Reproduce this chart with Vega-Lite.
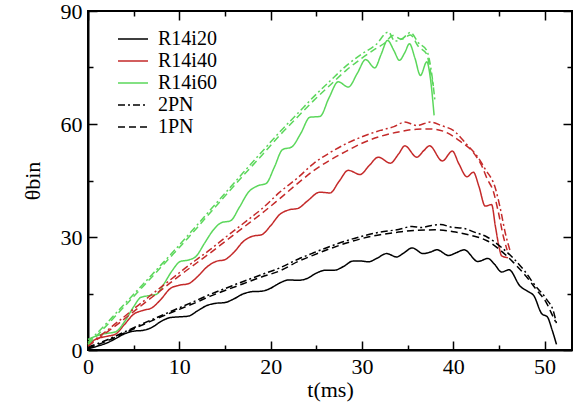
{
"$schema": "https://vega.github.io/schema/vega-lite/v6.json",
"width": 484, "height": 339,
"autosize": "none",
"padding": {"left": 88, "top": 11, "right": 7, "bottom": 57},
"config": {
 "font": "'Liberation Serif', 'Times New Roman', Times, serif",
 "view": {"stroke": "black", "strokeWidth": 2},
 "axis": {"grid": false, "domainColor": "black", "domainWidth": 2, "tickColor": "black", "tickWidth": 1.5,
  "labelFont": "'Liberation Serif', 'Times New Roman', Times, serif", "labelFontSize": 22, "labelColor": "black",
  "titleFont": "'Liberation Serif', 'Times New Roman', Times, serif", "titleFontSize": 22, "titleFontWeight": "normal", "titleColor": "black"},
 "legend": {"labelFont": "'Liberation Serif', 'Times New Roman', Times, serif", "labelFontSize": 20, "labelColor": "black", "padding": 0}
},
"data": {"values": [
{"s":"R14i20","t":0,"v":0.3},{"s":"R14i20","t":1,"v":1.0},{"s":"R14i20","t":2,"v":1.8},{"s":"R14i20","t":3,"v":3.0},{"s":"R14i20","t":4,"v":4.3},{"s":"R14i20","t":5,"v":5.0},{"s":"R14i20","t":6,"v":5.2},{"s":"R14i20","t":7,"v":6.0},{"s":"R14i20","t":8,"v":7.6},{"s":"R14i20","t":9,"v":8.6},{"s":"R14i20","t":10,"v":8.8},{"s":"R14i20","t":11,"v":9.0},{"s":"R14i20","t":12,"v":10.4},{"s":"R14i20","t":13,"v":11.8},{"s":"R14i20","t":14,"v":12.4},{"s":"R14i20","t":15,"v":12.6},{"s":"R14i20","t":16,"v":13.6},{"s":"R14i20","t":17,"v":14.9},{"s":"R14i20","t":18,"v":15.5},{"s":"R14i20","t":19,"v":15.6},{"s":"R14i20","t":20,"v":16.4},{"s":"R14i20","t":21,"v":17.8},{"s":"R14i20","t":22,"v":18.6},{"s":"R14i20","t":23,"v":18.5},{"s":"R14i20","t":24,"v":19.0},{"s":"R14i20","t":25,"v":20.4},{"s":"R14i20","t":26,"v":21.2},{"s":"R14i20","t":27,"v":21.2},{"s":"R14i20","t":28,"v":22.2},{"s":"R14i20","t":29,"v":23.6},{"s":"R14i20","t":30,"v":23.6},{"s":"R14i20","t":30.7,"v":23.4},{"s":"R14i20","t":31.6,"v":24.3},{"s":"R14i20","t":32.7,"v":25.6},{"s":"R14i20","t":33.8,"v":24.7},{"s":"R14i20","t":34.6,"v":25.8},{"s":"R14i20","t":35.5,"v":27.1},{"s":"R14i20","t":36.7,"v":25.6},{"s":"R14i20","t":37.5,"v":26.0},{"s":"R14i20","t":38.2,"v":26.6},{"s":"R14i20","t":39.5,"v":25.1},{"s":"R14i20","t":40.3,"v":25.8},{"s":"R14i20","t":41.2,"v":26.6},{"s":"R14i20","t":42.7,"v":23.5},{"s":"R14i20","t":43.8,"v":24.3},{"s":"R14i20","t":44.5,"v":22.8},{"s":"R14i20","t":45.3,"v":20.7},{"s":"R14i20","t":46.1,"v":21.3},{"s":"R14i20","t":47.3,"v":17.0},{"s":"R14i20","t":48.2,"v":15.5},{"s":"R14i20","t":48.8,"v":14.5},{"s":"R14i20","t":49.7,"v":9.6},{"s":"R14i20","t":50.3,"v":8.8},{"s":"R14i20","t":50.8,"v":5.5},{"s":"R14i20","t":51.3,"v":1.5},
{"s":"R14i40","t":0,"v":1.7},{"s":"R14i40","t":1,"v":3.0},{"s":"R14i40","t":2,"v":3.6},{"s":"R14i40","t":3,"v":4.2},{"s":"R14i40","t":4,"v":6.8},{"s":"R14i40","t":5,"v":9.5},{"s":"R14i40","t":6,"v":10.5},{"s":"R14i40","t":7,"v":11.2},{"s":"R14i40","t":8,"v":13.5},{"s":"R14i40","t":9,"v":16.3},{"s":"R14i40","t":10,"v":17.2},{"s":"R14i40","t":11,"v":17.6},{"s":"R14i40","t":12,"v":19.5},{"s":"R14i40","t":13,"v":22.0},{"s":"R14i40","t":14,"v":23.5},{"s":"R14i40","t":15,"v":24.0},{"s":"R14i40","t":16,"v":26.0},{"s":"R14i40","t":17,"v":28.8},{"s":"R14i40","t":18,"v":30.2},{"s":"R14i40","t":19,"v":30.6},{"s":"R14i40","t":20,"v":33.0},{"s":"R14i40","t":21,"v":36.0},{"s":"R14i40","t":22,"v":37.2},{"s":"R14i40","t":23,"v":37.6},{"s":"R14i40","t":24,"v":39.5},{"s":"R14i40","t":25.4,"v":41.9},{"s":"R14i40","t":26.5,"v":41.7},{"s":"R14i40","t":27.5,"v":44.8},{"s":"R14i40","t":28.5,"v":47.7},{"s":"R14i40","t":29.8,"v":46.6},{"s":"R14i40","t":30.8,"v":49.0},{"s":"R14i40","t":31.8,"v":51.2},{"s":"R14i40","t":33.1,"v":49.6},{"s":"R14i40","t":34.0,"v":52.0},{"s":"R14i40","t":34.7,"v":54.2},{"s":"R14i40","t":36.0,"v":51.2},{"s":"R14i40","t":36.8,"v":53.0},{"s":"R14i40","t":37.4,"v":54.2},{"s":"R14i40","t":38.8,"v":50.2},{"s":"R14i40","t":39.9,"v":52.8},{"s":"R14i40","t":40.6,"v":49.5},{"s":"R14i40","t":41.5,"v":46.0},{"s":"R14i40","t":42.2,"v":47.2},{"s":"R14i40","t":42.8,"v":43.5},{"s":"R14i40","t":43.5,"v":38.2},{"s":"R14i40","t":44.2,"v":38.6},{"s":"R14i40","t":44.6,"v":33.0},{"s":"R14i40","t":45.0,"v":27.5},{"s":"R14i40","t":45.3,"v":25.0},{"s":"R14i40","t":46.0,"v":24.5},
{"s":"R14i60","t":0,"v":2.8},{"s":"R14i60","t":1,"v":3.8},{"s":"R14i60","t":2,"v":4.4},{"s":"R14i60","t":3,"v":4.8},{"s":"R14i60","t":4,"v":7.5},{"s":"R14i60","t":5,"v":11.5},{"s":"R14i60","t":5.8,"v":14.0},{"s":"R14i60","t":6.6,"v":14.4},{"s":"R14i60","t":7.5,"v":14.8},{"s":"R14i60","t":8.3,"v":17.5},{"s":"R14i60","t":9.2,"v":21.0},{"s":"R14i60","t":10.1,"v":23.5},{"s":"R14i60","t":11.0,"v":23.9},{"s":"R14i60","t":11.8,"v":24.8},{"s":"R14i60","t":12.8,"v":28.5},{"s":"R14i60","t":13.7,"v":31.8},{"s":"R14i60","t":14.6,"v":33.8},{"s":"R14i60","t":15.6,"v":34.3},{"s":"R14i60","t":16.6,"v":38.0},{"s":"R14i60","t":17.6,"v":42.0},{"s":"R14i60","t":18.6,"v":43.6},{"s":"R14i60","t":19.5,"v":44.2},{"s":"R14i60","t":20.4,"v":48.5},{"s":"R14i60","t":21.3,"v":53.2},{"s":"R14i60","t":22.3,"v":53.9},{"s":"R14i60","t":23.3,"v":57.5},{"s":"R14i60","t":24.3,"v":61.8},{"s":"R14i60","t":25.4,"v":62.0},{"s":"R14i60","t":26.4,"v":67.0},{"s":"R14i60","t":27.4,"v":71.2},{"s":"R14i60","t":28.5,"v":69.8},{"s":"R14i60","t":29.5,"v":73.5},{"s":"R14i60","t":30.4,"v":77.1},{"s":"R14i60","t":31.4,"v":74.9},{"s":"R14i60","t":32.1,"v":78.5},{"s":"R14i60","t":32.8,"v":82.2},{"s":"R14i60","t":33.5,"v":79.5},{"s":"R14i60","t":34.1,"v":76.9},{"s":"R14i60","t":34.7,"v":79.0},{"s":"R14i60","t":35.2,"v":81.3},{"s":"R14i60","t":35.8,"v":77.5},{"s":"R14i60","t":36.4,"v":72.9},{"s":"R14i60","t":37.1,"v":76.5},{"s":"R14i60","t":37.5,"v":72.0},{"s":"R14i60","t":37.9,"v":62.3},
{"s":"R14i20 2PN","t":0,"v":0.8},{"s":"R14i20 2PN","t":2,"v":2.6},{"s":"R14i20 2PN","t":4,"v":4.8},{"s":"R14i20 2PN","t":6,"v":7.0},{"s":"R14i20 2PN","t":8,"v":9.1},{"s":"R14i20 2PN","t":10,"v":11.2},{"s":"R14i20 2PN","t":12,"v":13.3},{"s":"R14i20 2PN","t":13.4,"v":14.8},{"s":"R14i20 2PN","t":15,"v":16.3},{"s":"R14i20 2PN","t":17,"v":18.2},{"s":"R14i20 2PN","t":19,"v":20.0},{"s":"R14i20 2PN","t":21,"v":21.8},{"s":"R14i20 2PN","t":23,"v":24.1},{"s":"R14i20 2PN","t":24.7,"v":25.8},{"s":"R14i20 2PN","t":26.5,"v":27.5},{"s":"R14i20 2PN","t":28.3,"v":29.0},{"s":"R14i20 2PN","t":30,"v":30.2},{"s":"R14i20 2PN","t":32,"v":31.3},{"s":"R14i20 2PN","t":34,"v":32.0},{"s":"R14i20 2PN","t":35.5,"v":32.8},{"s":"R14i20 2PN","t":36.5,"v":32.5},{"s":"R14i20 2PN","t":37.5,"v":33.0},{"s":"R14i20 2PN","t":38.6,"v":33.3},{"s":"R14i20 2PN","t":39.8,"v":32.6},{"s":"R14i20 2PN","t":41.1,"v":32.3},{"s":"R14i20 2PN","t":42.3,"v":31.3},{"s":"R14i20 2PN","t":43.7,"v":30.0},{"s":"R14i20 2PN","t":45.3,"v":27.2},{"s":"R14i20 2PN","t":46.6,"v":24.3},{"s":"R14i20 2PN","t":47.8,"v":21.0},{"s":"R14i20 2PN","t":49,"v":17.0},{"s":"R14i20 2PN","t":50.2,"v":13.5},{"s":"R14i20 2PN","t":51.0,"v":10.0},{"s":"R14i20 2PN","t":51.3,"v":7.0},
{"s":"R14i20 1PN","t":0,"v":0.5},{"s":"R14i20 1PN","t":2,"v":2.3},{"s":"R14i20 1PN","t":4,"v":4.5},{"s":"R14i20 1PN","t":6,"v":6.7},{"s":"R14i20 1PN","t":8,"v":8.8},{"s":"R14i20 1PN","t":10,"v":10.8},{"s":"R14i20 1PN","t":12,"v":12.8},{"s":"R14i20 1PN","t":13.4,"v":14.3},{"s":"R14i20 1PN","t":15,"v":15.8},{"s":"R14i20 1PN","t":17,"v":17.6},{"s":"R14i20 1PN","t":19,"v":19.4},{"s":"R14i20 1PN","t":21,"v":21.0},{"s":"R14i20 1PN","t":23,"v":23.5},{"s":"R14i20 1PN","t":24.7,"v":25.2},{"s":"R14i20 1PN","t":26.5,"v":26.9},{"s":"R14i20 1PN","t":28.3,"v":28.4},{"s":"R14i20 1PN","t":30,"v":29.6},{"s":"R14i20 1PN","t":32,"v":30.6},{"s":"R14i20 1PN","t":34,"v":31.3},{"s":"R14i20 1PN","t":36,"v":31.8},{"s":"R14i20 1PN","t":38,"v":31.9},{"s":"R14i20 1PN","t":40,"v":31.4},{"s":"R14i20 1PN","t":42,"v":30.4},{"s":"R14i20 1PN","t":43.7,"v":29.0},{"s":"R14i20 1PN","t":45.3,"v":26.2},{"s":"R14i20 1PN","t":46.6,"v":23.2},{"s":"R14i20 1PN","t":48,"v":19.5},{"s":"R14i20 1PN","t":49.1,"v":16.0},{"s":"R14i20 1PN","t":50.2,"v":12.5},{"s":"R14i20 1PN","t":50.9,"v":9.0},{"s":"R14i20 1PN","t":51.2,"v":7.5},
{"s":"R14i40 2PN","t":0,"v":1.4},{"s":"R14i40 2PN","t":1,"v":3.2},{"s":"R14i40 2PN","t":2,"v":5.0},{"s":"R14i40 2PN","t":3,"v":7.0},{"s":"R14i40 2PN","t":4,"v":8.9},{"s":"R14i40 2PN","t":5,"v":10.9},{"s":"R14i40 2PN","t":6,"v":12.8},{"s":"R14i40 2PN","t":7,"v":14.8},{"s":"R14i40 2PN","t":8,"v":16.7},{"s":"R14i40 2PN","t":9,"v":18.6},{"s":"R14i40 2PN","t":10,"v":20.5},{"s":"R14i40 2PN","t":11,"v":22.4},{"s":"R14i40 2PN","t":12,"v":24.2},{"s":"R14i40 2PN","t":13.4,"v":26.7},{"s":"R14i40 2PN","t":15,"v":29.8},{"s":"R14i40 2PN","t":17.7,"v":34.9},{"s":"R14i40 2PN","t":19,"v":37.4},{"s":"R14i40 2PN","t":21,"v":41.9},{"s":"R14i40 2PN","t":23,"v":45.8},{"s":"R14i40 2PN","t":24.7,"v":49.5},{"s":"R14i40 2PN","t":26.5,"v":52.4},{"s":"R14i40 2PN","t":28.3,"v":54.8},{"s":"R14i40 2PN","t":30,"v":56.6},{"s":"R14i40 2PN","t":32,"v":58.3},{"s":"R14i40 2PN","t":33.5,"v":59.3},{"s":"R14i40 2PN","t":34.7,"v":60.5},{"s":"R14i40 2PN","t":36,"v":59.6},{"s":"R14i40 2PN","t":37.5,"v":60.5},{"s":"R14i40 2PN","t":38.8,"v":59.5},{"s":"R14i40 2PN","t":40,"v":58.3},{"s":"R14i40 2PN","t":41.5,"v":54.5},{"s":"R14i40 2PN","t":42.6,"v":51.5},{"s":"R14i40 2PN","t":43.5,"v":48.0},{"s":"R14i40 2PN","t":44.6,"v":43.0},{"s":"R14i40 2PN","t":45.2,"v":37.0},{"s":"R14i40 2PN","t":45.7,"v":31.0},{"s":"R14i40 2PN","t":46.2,"v":26.5},
{"s":"R14i40 1PN","t":0,"v":1.0},{"s":"R14i40 1PN","t":1,"v":2.8},{"s":"R14i40 1PN","t":2,"v":4.6},{"s":"R14i40 1PN","t":3,"v":6.4},{"s":"R14i40 1PN","t":4,"v":8.3},{"s":"R14i40 1PN","t":5,"v":10.2},{"s":"R14i40 1PN","t":6,"v":12.1},{"s":"R14i40 1PN","t":7,"v":14.0},{"s":"R14i40 1PN","t":8,"v":15.9},{"s":"R14i40 1PN","t":9,"v":17.8},{"s":"R14i40 1PN","t":10,"v":19.7},{"s":"R14i40 1PN","t":11,"v":21.5},{"s":"R14i40 1PN","t":12,"v":23.3},{"s":"R14i40 1PN","t":13.4,"v":25.8},{"s":"R14i40 1PN","t":15,"v":28.8},{"s":"R14i40 1PN","t":17.7,"v":33.8},{"s":"R14i40 1PN","t":19,"v":36.2},{"s":"R14i40 1PN","t":21,"v":40.2},{"s":"R14i40 1PN","t":23,"v":44.3},{"s":"R14i40 1PN","t":24.7,"v":47.6},{"s":"R14i40 1PN","t":26.5,"v":50.4},{"s":"R14i40 1PN","t":28.3,"v":52.8},{"s":"R14i40 1PN","t":30,"v":54.9},{"s":"R14i40 1PN","t":32,"v":56.7},{"s":"R14i40 1PN","t":34,"v":57.9},{"s":"R14i40 1PN","t":36,"v":58.6},{"s":"R14i40 1PN","t":37.5,"v":58.7},{"s":"R14i40 1PN","t":39,"v":58.0},{"s":"R14i40 1PN","t":40.7,"v":55.5},{"s":"R14i40 1PN","t":42.2,"v":52.4},{"s":"R14i40 1PN","t":43.2,"v":48.5},{"s":"R14i40 1PN","t":43.7,"v":45.5},{"s":"R14i40 1PN","t":44.4,"v":42.0},{"s":"R14i40 1PN","t":44.9,"v":37.0},{"s":"R14i40 1PN","t":45.5,"v":30.0},{"s":"R14i40 1PN","t":45.9,"v":26.5},
{"s":"R14i60 2PN","t":0,"v":2.0},{"s":"R14i60 2PN","t":1,"v":4.5},{"s":"R14i60 2PN","t":2,"v":7.0},{"s":"R14i60 2PN","t":3,"v":9.6},{"s":"R14i60 2PN","t":4,"v":12.2},{"s":"R14i60 2PN","t":5,"v":14.8},{"s":"R14i60 2PN","t":6,"v":17.4},{"s":"R14i60 2PN","t":7,"v":20.0},{"s":"R14i60 2PN","t":8,"v":22.6},{"s":"R14i60 2PN","t":9,"v":25.2},{"s":"R14i60 2PN","t":10,"v":27.9},{"s":"R14i60 2PN","t":11,"v":30.6},{"s":"R14i60 2PN","t":12,"v":33.3},{"s":"R14i60 2PN","t":13.5,"v":37.5},{"s":"R14i60 2PN","t":15,"v":41.6},{"s":"R14i60 2PN","t":17,"v":47.1},{"s":"R14i60 2PN","t":19,"v":52.5},{"s":"R14i60 2PN","t":21,"v":57.9},{"s":"R14i60 2PN","t":23,"v":62.9},{"s":"R14i60 2PN","t":24.7,"v":67.2},{"s":"R14i60 2PN","t":26.5,"v":71.4},{"s":"R14i60 2PN","t":28.3,"v":75.5},{"s":"R14i60 2PN","t":30,"v":78.6},{"s":"R14i60 2PN","t":31.5,"v":81.0},{"s":"R14i60 2PN","t":32.9,"v":84.4},{"s":"R14i60 2PN","t":33.6,"v":82.0},{"s":"R14i60 2PN","t":34.5,"v":82.8},{"s":"R14i60 2PN","t":35.3,"v":84.3},{"s":"R14i60 2PN","t":36.2,"v":81.5},{"s":"R14i60 2PN","t":37.1,"v":79.5},{"s":"R14i60 2PN","t":37.6,"v":74.0},{"s":"R14i60 2PN","t":38.0,"v":66.0},
{"s":"R14i60 1PN","t":0,"v":1.5},{"s":"R14i60 1PN","t":1,"v":3.9},{"s":"R14i60 1PN","t":2,"v":6.4},{"s":"R14i60 1PN","t":3,"v":9.0},{"s":"R14i60 1PN","t":4,"v":11.6},{"s":"R14i60 1PN","t":5,"v":14.2},{"s":"R14i60 1PN","t":6,"v":16.8},{"s":"R14i60 1PN","t":7,"v":19.4},{"s":"R14i60 1PN","t":8,"v":22.0},{"s":"R14i60 1PN","t":9,"v":24.6},{"s":"R14i60 1PN","t":10,"v":27.2},{"s":"R14i60 1PN","t":11,"v":29.9},{"s":"R14i60 1PN","t":12,"v":32.6},{"s":"R14i60 1PN","t":13.5,"v":36.8},{"s":"R14i60 1PN","t":15,"v":40.9},{"s":"R14i60 1PN","t":17,"v":46.3},{"s":"R14i60 1PN","t":19,"v":51.6},{"s":"R14i60 1PN","t":21,"v":57.0},{"s":"R14i60 1PN","t":23,"v":62.0},{"s":"R14i60 1PN","t":24.7,"v":66.2},{"s":"R14i60 1PN","t":26.5,"v":70.3},{"s":"R14i60 1PN","t":28.3,"v":74.3},{"s":"R14i60 1PN","t":30,"v":77.5},{"s":"R14i60 1PN","t":31.5,"v":80.0},{"s":"R14i60 1PN","t":32.5,"v":81.5},{"s":"R14i60 1PN","t":33.4,"v":83.5},{"s":"R14i60 1PN","t":34.3,"v":82.5},{"s":"R14i60 1PN","t":35.3,"v":83.6},{"s":"R14i60 1PN","t":36.2,"v":80.5},{"s":"R14i60 1PN","t":37.1,"v":78.5},{"s":"R14i60 1PN","t":37.5,"v":74.0},{"s":"R14i60 1PN","t":37.9,"v":69.0}
]},
"layer": [
 {"mark": {"type": "line", "interpolate": "monotone", "strokeWidth": 1.5},
  "encoding": {
   "x": {"field": "t", "type": "quantitative", "scale": {"domain": [0, 53], "nice": false},
    "axis": {"values": [0,5,10,15,20,25,30,35,40,45,50], "labelExpr": "datum.value % 10 == 0 ? datum.label : ''",
     "tickSize": {"condition": {"test": "datum.value % 10 == 0", "value": -9}, "value": -5},
     "labelPadding": 15, "labelFlush": false, "title": "t(ms)", "titlePadding": 2}},
   "y": {"field": "v", "type": "quantitative", "scale": {"domain": [0, 90], "nice": false},
    "axis": {"values": [0,15,30,45,60,75,90], "labelExpr": "datum.value % 30 == 0 ? datum.label : ''",
     "tickSize": {"condition": {"test": "datum.value % 30 == 0", "value": -9}, "value": -5},
     "labelPadding": 15, "labelFlush": false, "title": "θbin", "titlePadding": 16}},
   "color": {"field": "s", "type": "nominal",
    "scale": {"domain": ["R14i20","R14i40","R14i60","R14i20 2PN","R14i20 1PN","R14i40 2PN","R14i40 1PN","R14i60 2PN","R14i60 1PN"],
     "range": ["#000000","#c42a2a","#5bd75b","#000000","#000000","#c42a2a","#c42a2a","#5bd75b","#5bd75b"]},
    "legend": {"title": null, "orient": "none", "legendX": 34, "legendY": 17,
     "values": ["R14i20","R14i40","R14i60","R14i20 2PN","R14i20 1PN"],
     "labelExpr": "replace(datum.label, 'R14i20 ', '')",
     "symbolType": "M-1.5,0H1.5", "symbolSize": 400, "symbolStrokeWidth": 1.5, "labelOffset": 14, "rowPadding": 1}},
   "strokeDash": {"field": "s", "type": "nominal",
    "scale": {"domain": ["R14i20","R14i40","R14i60","R14i20 2PN","R14i20 1PN","R14i40 2PN","R14i40 1PN","R14i60 2PN","R14i60 1PN"],
     "range": [[1,0],[1,0],[1,0],[7,3,2,3],[7,4],[7,3,2,3],[7,4],[7,3,2,3],[7,4]]},
    "legend": {"title": null, "orient": "none", "legendX": 34, "legendY": 17,
     "values": ["R14i20","R14i40","R14i60","R14i20 2PN","R14i20 1PN"],
     "labelExpr": "replace(datum.label, 'R14i20 ', '')",
     "symbolType": "M-1.5,0H1.5", "symbolSize": 400, "symbolStrokeWidth": 1.5, "labelOffset": 14, "rowPadding": 1}}
  }},
 {"mark": {"type": "line", "opacity": 0},
  "encoding": {
   "x": {"field": "t", "type": "quantitative", "scale": {"domain": [0, 53], "nice": false},
    "axis": {"orient": "top", "values": [0,5,10,15,20,25,30,35,40,45,50], "labels": false, "title": null, "domain": false,
     "tickSize": {"condition": {"test": "datum.value % 10 == 0", "value": -9}, "value": -5}}},
   "y": {"field": "v", "type": "quantitative", "scale": {"domain": [0, 90], "nice": false},
    "axis": {"orient": "right", "values": [0,15,30,45,60,75,90], "labels": false, "title": null, "domain": false,
     "tickSize": {"condition": {"test": "datum.value % 30 == 0", "value": -9}, "value": -5}}},
   "detail": {"field": "s", "type": "nominal"}
  }}
],
"resolve": {"axis": {"x": "independent", "y": "independent"}}
}
